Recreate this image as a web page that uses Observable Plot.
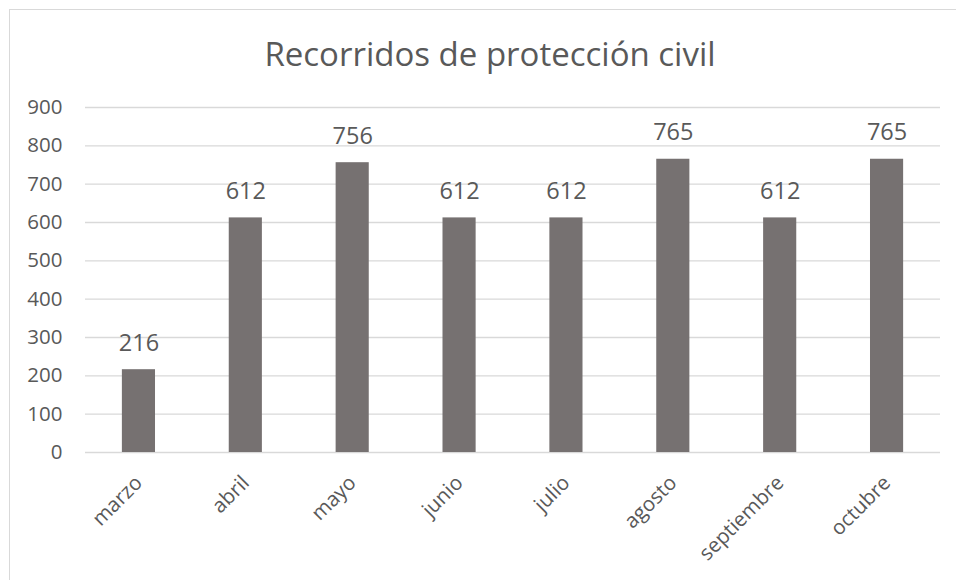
<!DOCTYPE html>
<html>
<head>
<meta charset="utf-8">
<script src="https://cdn.jsdelivr.net/npm/d3@7"></script>
<script src="https://cdn.jsdelivr.net/npm/@observablehq/plot@0.6"></script>
<style>
  html, body { margin: 0; padding: 0; background: #fff; overflow: hidden; }
  #wrap { position: relative; width: 956px; height: 580px; overflow: hidden; font-family: "Open Sans", sans-serif; }
  #frame { position: absolute; left: 9px; top: 9px; width: 960px; height: 600px; border: 1px solid #d9d9d9; box-sizing: border-box; }
  #title { position: absolute; left: 0; top: 31px; width: 956px; text-align: center; font-size: 33px; color: #595959; font-family: "Open Sans", sans-serif; white-space: nowrap; padding-left: 24px; box-sizing: border-box; }
  #chart { position: absolute; left: 0; top: 0; }
</style>
</head>
<body>
<div id="wrap">
  <div id="frame"></div>
  <div id="chart"></div>
  <div id="title">Recorridos de protección civil</div>
</div>
<script>
const titleText = "Recorridos de protección civil";
const months = ["marzo", "abril", "mayo", "junio", "julio", "agosto", "septiembre", "octubre"];
const values = [216, 612, 756, 612, 612, 765, 612, 765];
const yTicks = [0, 100, 200, 300, 400, 500, 600, 700, 800, 900];

const data = months.map((m, i) => ({month: m, value: values[i]}));

const chart = Plot.plot({
  width: 956,
  height: 580,
  marginLeft: 85,
  marginRight: 16,
  marginTop: 107,
  marginBottom: 128,
  style: {fontFamily: "Open Sans, sans-serif", color: "#595959", background: "transparent"},
  x: {domain: months, paddingInner: 0.69, paddingOuter: 0.345, round: false, label: null},
  y: {domain: [0, 900], label: null},
  marks: [
    Plot.gridY(yTicks, {stroke: "#d9d9d9", strokeOpacity: 1, strokeWidth: 1.4}),
    Plot.axisY(yTicks, {tickSize: 0, tickPadding: 23, fontSize: 20.5, fill: "#595959", label: null}),
    Plot.axisX({tickSize: 0, tickPadding: 27, tickRotate: -45, fontSize: 20.5, fill: "#595959", label: null}),
    Plot.barY(data, {x: "month", y: "value", fill: "#767171"}),
    Plot.text(data, {x: "month", y: "value", text: d => String(d.value), lineAnchor: "bottom", dy: -19, fontSize: 23.5, fill: "#595959"})
  ]
});
document.getElementById("chart").appendChild(chart);
document.getElementById("title").textContent = titleText;
</script>
</body>
</html>
